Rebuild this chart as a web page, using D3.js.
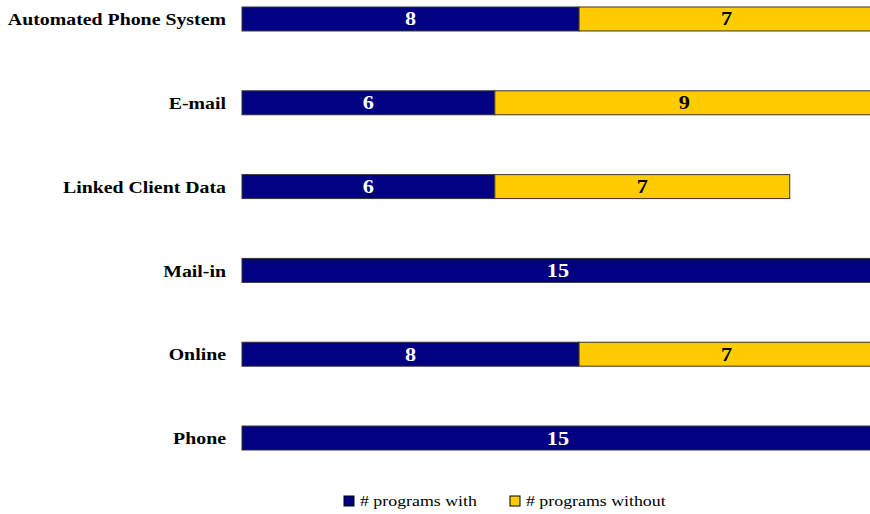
<!DOCTYPE html>
<html>
<head>
<meta charset="utf-8">
<script src="https://cdn.jsdelivr.net/npm/d3@7"></script>
<style>
  body { margin: 0; background: #fff; }
  svg { display: block; }
</style>
</head>
<body>
<svg width="870" height="514"></svg>
<script>
var categories = ['Automated Phone System', 'E-mail', 'Linked Client Data', 'Mail-in', 'Online', 'Phone'];
var withValues = [8, 6, 6, 15, 8, 15];
var withoutValues = [7, 9, 7, 0, 7, 0];
var seriesNames = ['# programs with', '# programs without'];
var colors = ['#000080', '#ffcc00'];
var textColors = ['#ffffff', '#000000'];

var svg = d3.select('svg');
var serif = '"Liberation Serif", "Times New Roman", serif';
var stretch = 1.24; // the reference text is drawn a little wide

var rows = categories.map(function(c, i) {
  return { name: c, with: withValues[i], without: withoutValues[i] };
});

var series = d3.stack().keys(['with', 'without'])(rows);

var x = d3.scaleLinear()
  .domain([0, 15])
  .range([242, 874]);

var y = d3.scaleBand()
  .domain(categories)
  .range([7, 450])
  .paddingInner(0.714)
  .paddingOuter(0);

var layers = svg.selectAll('g.layer')
  .data(series)
  .enter().append('g')
    .attr('class', 'layer');

function segments(d) {
  return d.filter(function(p) { return p[1] > p[0]; });
}

layers.each(function(s, k) {
  var layer = d3.select(this);

  layer.selectAll('rect')
    .data(segments(s))
    .enter().append('rect')
      .attr('x', function(d) { return x(d[0]); })
      .attr('y', function(d) { return y(d.data.name); })
      .attr('width', function(d) { return x(d[1]) - x(d[0]); })
      .attr('height', y.bandwidth())
      .attr('fill', colors[k])
      .attr('stroke', '#333')
      .attr('stroke-width', 1);

  layer.selectAll('text')
    .data(segments(s))
    .enter().append('text')
      .attr('transform', function(d) {
        var cx = (x(d[0]) + x(d[1])) / 2;
        var cy = y(d.data.name) + y.bandwidth() / 2;
        return 'translate(' + cx + ',' + cy + ') scale(' + stretch + ',1)';
      })
      .attr('dy', '0.36em')
      .attr('text-anchor', 'middle')
      .attr('font-family', serif)
      .attr('font-weight', 'bold')
      .attr('font-size', 18)
      .attr('fill', textColors[k])
      .text(function(d) { return d[1] - d[0]; });
});

// category axis
var axisG = svg.append('g')
  .attr('transform', 'translate(226,1)')
  .call(d3.axisLeft(y).tickSize(0).tickPadding(0));
axisG.select('.domain').remove();
axisG.selectAll('text')
  .attr('x', 0)
  .attr('transform', 'scale(' + stretch + ',1)')
  .attr('font-family', serif)
  .attr('font-weight', 'bold')
  .attr('font-size', 16)
  .attr('fill', '#000');

// legend
var legendX = [344, 510];
var legend = svg.selectAll('g.legend')
  .data(seriesNames)
  .enter().append('g')
    .attr('class', 'legend')
    .attr('transform', function(d, i) { return 'translate(' + legendX[i] + ',496)'; });

legend.append('rect')
  .attr('width', 10)
  .attr('height', 10)
  .attr('fill', function(d, i) { return colors[i]; })
  .attr('stroke', '#000')
  .attr('stroke-width', 1);

legend.append('text')
  .attr('transform', 'translate(16,5) scale(1.19,1)')
  .attr('dy', '0.35em')
  .attr('font-family', serif)
  .attr('font-size', 15)
  .attr('fill', '#000')
  .text(function(d) { return d; });
</script>
</body>
</html>
